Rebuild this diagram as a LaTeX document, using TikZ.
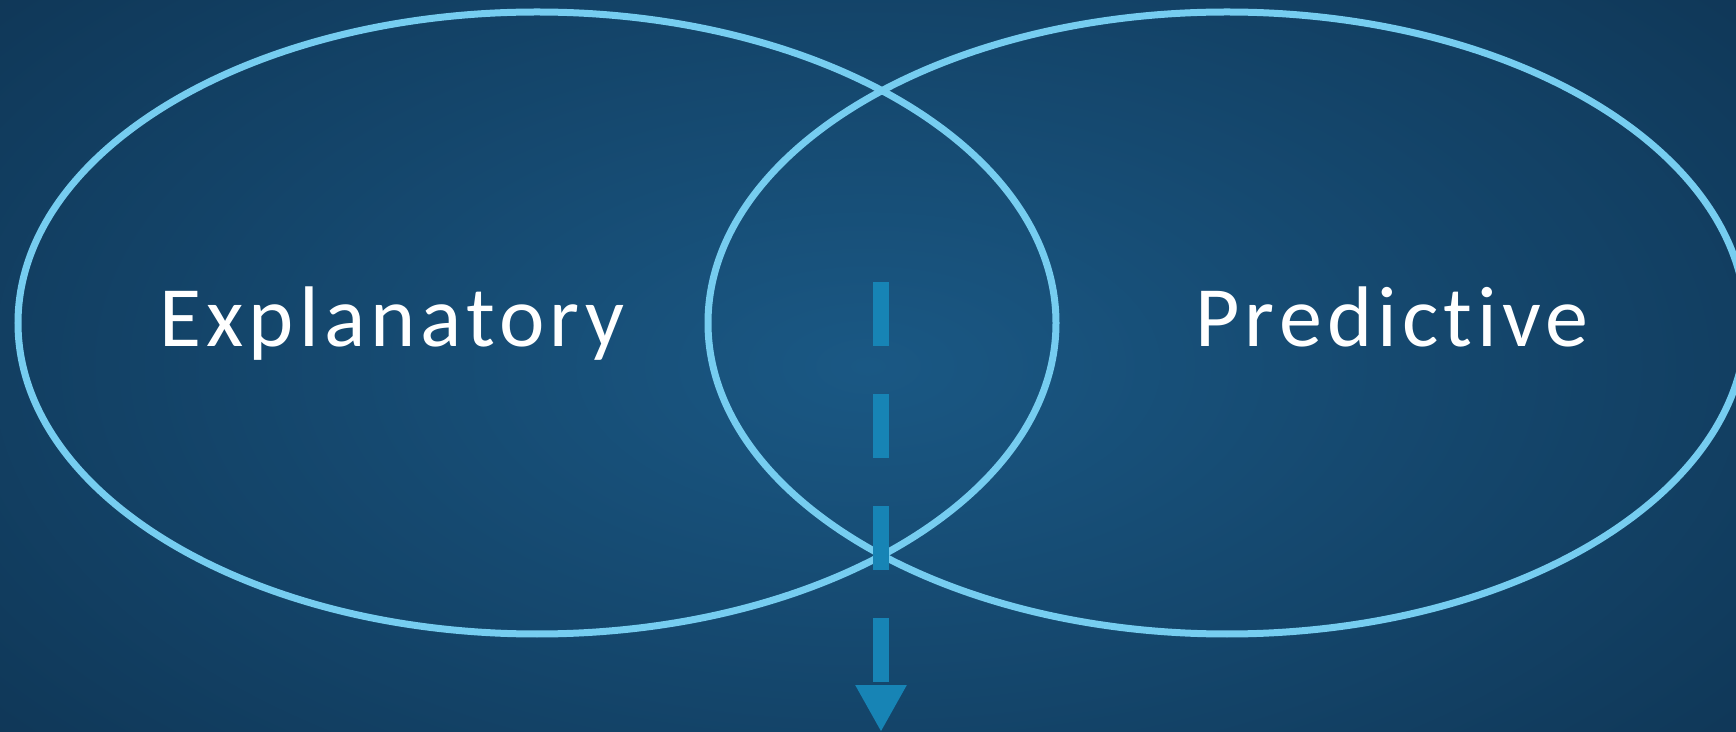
\documentclass[tikz,border=0pt]{standalone}
\usepackage{fontspec}
\setmainfont{Carlito}[Ligatures=NoCommon]
\usepackage{tikz}
\usetikzlibrary{arrows.meta,positioning,shapes.geometric}

\definecolor{bgin}{HTML}{1A5884}
\definecolor{bgout}{HTML}{0F3656}
\definecolor{ring}{HTML}{76CDF0}
\definecolor{flowblue}{HTML}{1784B5}

\begin{document}
\begin{tikzpicture}[
      x=0.5pt, y=-0.5pt,
      venn/.style={ellipse, draw=ring, line width=3.5pt, minimum width=519pt, minimum height=311pt, inner sep=0pt},
      lbl/.style={text=white, font=\fontsize{43}{50}\selectfont\addfontfeature{LetterSpace=6}, anchor=base},
      flow/.style={draw=flowblue, line width=8pt, dash pattern=on 32pt off 24pt},
      >={Triangle[length=23.5pt, width=24pt]}
    ]
    \useasboundingbox (0,0) rectangle (1736,732);
    \clip (0,0) rectangle (1736,732);
    \shade[inner color=bgin, outer color=bgout] (-300,-250) rectangle (2036,982);

    \node[venn] (expl) at (537,323) {};
    \node[venn] (pred) at (1227,323) {};
    \node[lbl] (explt) at (392,347) {Explanatory};
    \node[lbl] (predt) at (1392,347) {Predictive};

    \coordinate (top) at (881,282);
    \coordinate (tip) at (881,732);
    \draw[flow, -{Triangle[length=23.5pt, width=24pt, fill=flowblue]}] (top) -- (tip);
  \end{tikzpicture}
\end{document}
